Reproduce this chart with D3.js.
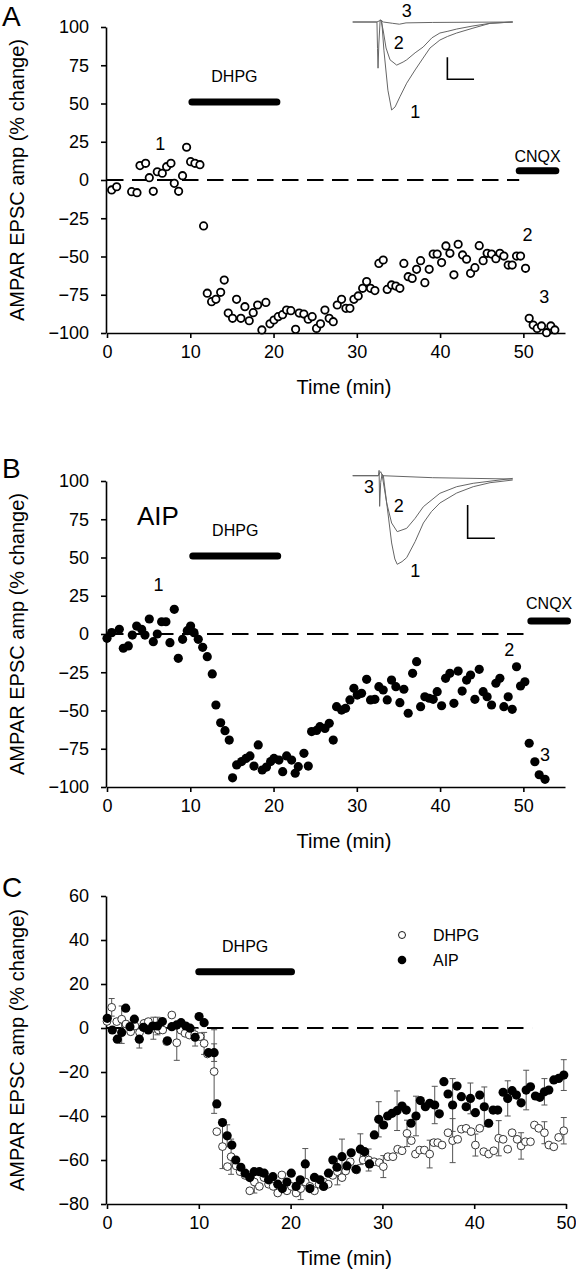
<!DOCTYPE html>
<html><head><meta charset="utf-8">
<script src="https://cdn.jsdelivr.net/npm/d3@7"></script>
<style>
body{margin:0;background:#fff}
svg{display:block}
text{font-family:"Liberation Sans",Arial,Helvetica,sans-serif;fill:#000}
</style>
</head><body>
<svg id="fig" width="576" height="1280"></svg>
<script>
// ---------- DATA ----------
const ticksAB_Y = [-100,-75,-50,-25,0,25,50,75,100];
const ticksAB_X = [0,10,20,30,40,50];
const ticksC_Y = [-80,-60,-40,-20,0,20,40,60];
const ticksC_X = [0,10,20,30,40,50];
const yTitle = "AMPAR EPSC amp (% change)";
const xTitle = "Time (min)";

// Panel A: DHPG (time min, % change)
const panelA = [[0.56,-6.5],[1.16,-4.4],[2.96,-7.6],[3.6,-8.3],[3.96,9.4],[4.64,10.9],[5.08,1.5],[5.56,-7.4],[6.04,5.4],[6.64,4.4],[7.16,8.7],[7.68,10.9],[8.08,-2.2],[8.6,-7.4],[9.07,2.8],[9.56,21.4],[10.04,12],[10.56,10.9],[11.16,10],[11.6,-30],[12.04,-74],[12.56,-79.5],[13.08,-78],[13.65,-73.4],[14.08,-65.4],[14.56,-87],[15.08,-90.4],[15.56,-78],[16.08,-90.4],[16.56,-82.8],[17.08,-92],[17.56,-86.7],[18.09,-81.7],[18.6,-98],[19.08,-80],[19.57,-94],[20.05,-91.5],[20.56,-89.3],[21.08,-88],[21.56,-85],[22.08,-85.4],[22.65,-97.6],[23.08,-87],[23.64,-87.6],[24.16,-91],[24.64,-89.3],[25.16,-97],[25.64,-94],[26.17,-85],[26.68,-90.4],[27.17,-92.6],[27.65,-81.7],[28.17,-78],[28.69,-83.9],[29.17,-83.9],[29.65,-78],[30.17,-75.8],[30.7,-70.8],[31.18,-66.4],[31.65,-70.8],[32.17,-72.3],[32.65,-54.5],[33.17,-52.3],[33.65,-71.5],[34.17,-68.6],[34.69,-69.3],[35.17,-70.8],[35.65,-54.5],[36.17,-63.2],[36.65,-64.3],[37.18,-58.4],[37.66,-52.7],[38.17,-67.1],[38.69,-58.4],[39.17,-48.4],[39.65,-48.4],[40.18,-54],[40.7,-43.1],[41.18,-47.9],[41.66,-62],[42.17,-42],[42.7,-49],[43.18,-51.8],[43.66,-61],[44.18,-57.3],[44.7,-42.9],[45.17,-52.7],[45.65,-47.9],[46.18,-48.4],[46.7,-51.4],[47.18,-47.9],[47.66,-49.7],[48.18,-55.6],[48.66,-55.6],[49.18,-49.7],[49.66,-49.7],[50.26,-57.7],[50.7,-90.4],[51.18,-94.8],[51.66,-97],[52.18,-95.4],[52.78,-99.8],[53.3,-95.4],[53.78,-98]];

// Panel B: AIP
const panelB = [[0,-2.8],[0.56,0.9],[1.48,3.1],[1.96,-9.3],[2.56,-7.8],[3.04,-0.7],[3.56,5.2],[4.16,3.1],[4.56,-0.7],[5.08,9.8],[5.56,-5],[6.04,0],[6.56,8],[7.08,8],[7.56,-5.7],[8.08,16.1],[8.56,-15.9],[9.08,-3.5],[9.64,2.2],[10.04,5.2],[10.44,0.9],[10.96,-3.5],[11.49,-8.7],[12.04,-14.8],[12.64,-26.1],[13.08,-46.4],[13.65,-58],[14.17,-63.2],[14.68,-69.3],[15.08,-94],[15.57,-85.6],[16.17,-83.4],[16.69,-81.3],[17.17,-79.7],[17.65,-86.3],[18.16,-72.5],[18.64,-88.9],[19.15,-87],[19.65,-83.4],[20.05,-81.3],[20.65,-82.4],[21.1,-90],[21.57,-79.7],[22.17,-82.4],[22.6,-91],[22.97,-86.7],[23.65,-78],[24.17,-86.3],[24.57,-63.8],[25.17,-63],[25.57,-60.6],[26.17,-61.7],[26.69,-58.4],[27.17,-69.3],[27.57,-47.5],[28.17,-49.7],[28.65,-48.6],[29.17,-43.1],[29.65,-35.5],[30.05,-39.9],[30.57,-38.8],[31.18,-29.6],[31.65,-43.1],[32.17,-42.7],[32.65,-34.4],[33.17,-36.6],[33.65,-43.1],[34.17,-30.1],[34.69,-34.4],[35.17,-44.9],[35.65,-36.1],[36.17,-51.8],[36.7,-25.7],[37.18,-18.1],[37.66,-47.5],[38.17,-41],[38.69,-42],[39.17,-42.7],[39.65,-37.7],[40.18,-46.9],[40.66,-29],[41.18,-25.7],[41.66,-45.3],[42.17,-24.2],[42.65,-37.3],[43.18,-30.1],[43.66,-26.8],[44.18,-42.7],[44.7,-23.1],[45.17,-37.7],[45.65,-41],[46.18,-46.4],[46.7,-32.2],[47.18,-29],[47.66,-47.5],[48.18,-41],[48.66,-49.2],[49.18,-21.4],[49.66,-34],[50.18,-31.2],[50.7,-71.4],[51.38,-83.5],[51.9,-92],[52.6,-95]];

// Panel C: averages
const cAIP = [[0.03,4.4],[0.58,-0.9],[1.12,-5.1],[1.6,-2],[2.04,9],[2.5,0.6],[2.98,4],[3.52,-5.1],[3.96,0.3],[4.5,-0.9],[4.98,0.9],[5.49,0.9],[6.03,2.9],[6.58,-5.8],[7.06,0.6],[7.6,1.4],[8.07,2.4],[8.58,0.9],[9.05,-0.1],[9.6,-4.2],[10.03,5.2],[10.58,2.4],[11.05,-11.2],[11.67,-11.2],[11.96,-34.5],[12.58,-43],[13.09,-49],[13.6,-53.2],[14.03,-60],[14.58,-63.3],[15.05,-66],[15.55,-68],[16.03,-65.3],[16.6,-65.3],[17.12,-66],[17.6,-69],[18.07,-67.6],[18.6,-71],[19.1,-73],[19.6,-70],[20.07,-66],[20.6,-72],[21.05,-69],[21.6,-61.8],[22.1,-73],[22.6,-67.9],[23.2,-69],[23.6,-72],[24.13,-66],[24.6,-60],[25.05,-63.3],[25.6,-58.5],[26.14,-62.7],[26.6,-56.7],[27.12,-64.2],[27.6,-55.1],[28.06,-56.2],[28.6,-61.8],[29.12,-48.6],[29.6,-41.5],[30.13,-44.1],[30.57,-40],[31.05,-38.8],[31.6,-37.6],[32.14,-35.5],[32.6,-37.3],[33.12,-43.3],[33.66,-40],[34.13,-33],[34.68,-35.8],[35.15,-34.2],[35.7,-35],[36.2,-39],[36.7,-24.4],[37.15,-30],[37.65,-35],[38.13,-26.4],[38.6,-31.2],[39.12,-35.8],[39.59,-32],[40.13,-38.5],[40.6,-30.5],[41.1,-35.8],[41.58,-43.3],[42.06,-37.3],[42.56,-37.3],[43.15,-29.2],[43.65,-32],[44.13,-28.5],[44.6,-30.5],[45.11,-34],[45.66,-28.2],[46.13,-26.7],[46.67,-30.9],[47.15,-31.5],[47.65,-29],[48.13,-28.2],[48.67,-23.6],[49.2,-22.9],[49.76,-21.4]];
const cDHPG = [[0,3],[0.51,9.4],[1.06,2.9],[1.6,4],[2.07,1.8],[2.58,-1.7],[3.05,0.9],[3.55,-2],[4.03,2.1],[4.5,2.9],[5.05,-0.1],[5.6,-0.9],[6.07,-0.9],[6.5,-6.2],[7.06,5.9],[7.6,-6.7],[8.05,-1],[8.5,-2.4],[8.97,-3.2],[9.55,-3],[10.14,-3.9],[10.58,-7],[10.94,-11.8],[11.67,-19.8],[11.96,-47.1],[12.58,-53.9],[13.12,-63],[13.52,-58.5],[14.07,-62.7],[14.5,-65.3],[15.05,-67],[15.55,-74],[16.05,-70],[16.6,-72],[17.1,-68],[17.6,-71],[18.1,-72],[18.6,-75],[19.05,-66.8],[19.6,-74],[20.1,-72],[20.6,-75],[21.1,-73],[21.6,-70],[22.1,-72],[22.6,-74],[23.1,-71],[23.6,-70],[24.1,-71],[24.6,-67],[25.1,-65.3],[25.6,-68],[26.0,-65],[26.5,-60.8],[27.2,-64.5],[27.9,-60],[28.5,-60],[29.1,-60.8],[29.66,-61.2],[30.1,-63],[30.6,-58.5],[31.15,-58.5],[31.66,-55.1],[32.14,-55.8],[32.68,-47.9],[33.15,-51.2],[33.6,-57.3],[34.06,-55.5],[34.57,-55.5],[35.15,-57.3],[35.6,-52.1],[36.03,-52.1],[36.5,-53.2],[37.15,-47.6],[37.65,-51.2],[38.2,-50.6],[38.6,-46],[39.12,-45.6],[39.66,-47.1],[40.13,-53.2],[40.6,-45.6],[41.04,-56.2],[41.58,-57.3],[42.13,-55.8],[42.67,-50.1],[43.15,-50.6],[43.65,-55.1],[44.13,-47.6],[44.68,-50.6],[45.11,-53.6],[45.58,-51.7],[46.13,-51.7],[46.56,-44.1],[47.03,-45.6],[47.65,-47.6],[48.13,-53.2],[48.67,-54],[49.2,-49.7],[49.76,-46.7]];
// SEM values [time, sem]
const cAIPErr = [[1.6,5],[3.52,4],[5.49,4],[9.6,4],[11.67,4],[13.09,5],[21.6,7],[25.6,8],[27.6,7],[29.6,8],[31.6,9],[33.66,9],[35.7,8.5],[37.65,12],[39.59,7],[41.1,9],[43.65,8],[45.66,9],[47.65,6],[49.76,7]];
const cDHPGErr = [[0.51,4],[1.6,6],[5.05,5],[7.6,8],[10.58,5],[11.67,19],[12.58,10],[13.52,8],[16.05,5],[21.1,5],[25.1,6],[28.5,5],[30.1,5],[32.68,6],[35.15,6.3],[37.65,10],[40.13,5],[42.67,8],[45.11,6],[47.65,5],[49.76,6]];

// Drug application bars [label, start, end, level]
const drugsA = [["DHPG",10.2,20.4,51],["CNQX",49.5,53.9,6]];
const drugsB = [["DHPG",10.3,20.5,51],["CNQX",50.9,55.3,8.5]];
const drugsC = [["DHPG",10,20.1,25.6]];
const baselineA = [0,49.5], baselineB = [0,51], baselineC = [0,46.3];

// Point labels [label, time, value]
const labelsA = [["1",6.4,19.6],["2",50.5,-40],["3",52.5,-80.4]];
const labelsB = [["1",6.2,28],["2",48.3,-14.4],["3",52.6,-83]];

// Inset traces [ms, pA]
const trA1 = [[0,0],[9.1,0],[9.3,-60],[9.5,-105],[9.8,-50],[10.3,5],[10.9,2],[11.7,-64],[13.2,-155],[14.6,-200],[15.9,-193],[17.7,-170],[20.25,-139],[23.4,-109],[26.4,-82],[29,-59],[32.7,-41],[35.5,-33],[39,-25],[45.1,-14],[51.5,-3],[60,0]];
const trA2 = [[10.6,4],[11.4,-18],[12.5,-59],[14,-86],[16.5,-98],[18.9,-91],[20.25,-86],[23.4,-70],[26.4,-57],[29.7,-36],[32.7,-25],[35.7,-21],[39,-16],[45.1,-9],[51.5,-3],[60,0]];
const trA3 = [[0,0],[9,0],[10.6,4],[11.5,0],[15,-3],[17.5,-5],[20,-2],[30,-1],[60,0]];
const barA = [[35.5,-80],[35.5,-130],[45.5,-130]];
const trB1 = [[0,0],[9.7,0],[9.9,8],[10.1,-46],[10.5,-10],[11,2],[11.5,0],[12.75,-41],[14.6,-101],[15.8,-125],[16.7,-133],[18.5,-129],[20.25,-123],[23.4,-99],[26.5,-71],[29.5,-54],[32.7,-41],[39,-26],[45.2,-16.5],[51.5,-10.5],[60,-6.5]];
const trB2 = [[11,2],[12.75,-41],[14.6,-71],[16.7,-84],[20.25,-79],[23.4,-64],[26.5,-46.5],[32.7,-26.4],[39,-16.5],[45.2,-11.4],[60,-4]];
const trB3 = [[0,0],[9.5,0],[10.5,6],[11.2,0],[30,-3],[60,-5]];
const barB = [[43.1,-44],[43.1,-94],[53.3,-94]];
const traceLabelsA = [["3",20.3,11],["2",17.3,-61],["1",23.5,-218]];
const traceLabelsB = [["3",6.1,-26],["2",17.3,-54.5],["1",23.5,-152]];

// ---------- DRAW ----------
const svg = d3.select("#fig");
const FONT = '"Liberation Sans",Arial,Helvetica,sans-serif';

function panel(cfg){
  const x = d3.scaleLinear().domain(cfg.xd).range(cfg.xr);
  const y = d3.scaleLinear().domain(cfg.yd).range(cfg.yr);
  const g = svg.append("g");
  const ya = g.append("g").attr("transform",`translate(${cfg.xr[0]-1},0)`)
    .call(d3.axisLeft(y).tickValues(cfg.yt).tickSize(5).tickSizeOuter(0).tickPadding(12).tickFormat(d3.format("d")));
  const xa = g.append("g").attr("transform",`translate(0,${cfg.yr[0]})`)
    .call(d3.axisBottom(x).tickValues(cfg.xt).tickSize(5).tickSizeOuter(0).tickPadding(7).tickFormat(d3.format("d")));
  [ya,xa].forEach(a=>{
    a.select(".domain").attr("stroke","#000").attr("stroke-width",1.6);
    a.selectAll(".tick line").attr("stroke","#000").attr("stroke-width",1.6);
    a.selectAll(".tick text").attr("font-size",18).attr("font-family",FONT).attr("fill","#000");
  });
  // titles
  g.append("text").attr("x",(cfg.xr[0]+cfg.xr[1])/2+8).attr("y",cfg.yr[0]+61)
    .attr("text-anchor","middle").attr("font-size",20).text(xTitle);
  g.append("text").attr("transform",`translate(24,${(cfg.yr[0]+cfg.yr[1])/2}) rotate(-90)`)
    .attr("text-anchor","middle").attr("font-size",20).text(yTitle);
  g.append("text").attr("x",2).attr("y",cfg.letterY).attr("font-size",28).text(cfg.letter);
  // baseline dashed
  g.append("line").attr("x1",x(cfg.base[0])).attr("x2",x(cfg.base[1]))
    .attr("y1",y(0)).attr("y2",y(0)).attr("stroke","#000").attr("stroke-width",2.2)
    .attr("stroke-dasharray","16.5,8.5");
  // drug bars
  cfg.drugs.forEach(d=>{
    g.append("line").attr("x1",x(d[1])).attr("x2",x(d[2])).attr("y1",y(d[3])).attr("y2",y(d[3]))
      .attr("stroke","#000").attr("stroke-width",7).attr("stroke-linecap","round");
    g.append("text").attr("x",(x(d[1])+x(d[2]))/2).attr("y",y(d[3])-(d[0]==="CNQX"?cfg.cnqxGap:20))
      .attr("text-anchor","middle").attr("font-size",16).text(d[0]);
  });
  return {g,x,y};
}

function inset(g, xr, yd, yr, traces, bar, labels){
  const xs = d3.scaleLinear().domain([0,60]).range(xr);
  const ys = d3.scaleLinear().domain(yd).range(yr);
  const line = d3.line().x(d=>xs(d[0])).y(d=>ys(d[1])).curve(d3.curveLinear);
  traces.forEach(t=>g.append("path").attr("d",line(t)).attr("fill","none")
     .attr("stroke","#666").attr("stroke-width",1).attr("stroke-linejoin","round"));
  g.append("path").attr("d",line(bar)).attr("fill","none").attr("stroke","#000").attr("stroke-width",1.6);
  labels.forEach(l=>g.append("text").attr("x",xs(l[1])).attr("y",ys(l[2]))
     .attr("text-anchor","middle").attr("font-size",18).text(l[0]));
}

// Panel A
const A = panel({xd:[0,55],xr:[107,565],yd:[-100,100],yr:[333,27],xt:ticksAB_X,yt:ticksAB_Y,
  letter:"A",letterY:26,base:baselineA,drugs:drugsA,cnqxGap:9});
A.g.append("g").selectAll("circle").data(panelA).join("circle")
  .attr("cx",d=>A.x(d[0])).attr("cy",d=>A.y(d[1])).attr("r",3.7)
  .attr("fill","#fff").attr("stroke","#000").attr("stroke-width",1.8);
labelsA.forEach(l=>A.g.append("text").attr("x",A.x(l[1])).attr("y",A.y(l[2]))
  .attr("text-anchor","middle").attr("font-size",18).text(l[0]));
inset(A.g,[352.7,512.7],[0,-200],[22,110],[trA3,trA2,trA1],barA,traceLabelsA);

// Panel B
const B = panel({xd:[0,55],xr:[107,565],yd:[-100,100],yr:[787,481],xt:ticksAB_X,yt:ticksAB_Y,
  letter:"B",letterY:478,base:baselineB,drugs:drugsB,cnqxGap:12});
B.g.append("g").selectAll("circle").data(panelB).join("circle")
  .attr("cx",d=>B.x(d[0])).attr("cy",d=>B.y(d[1])).attr("r",4.6).attr("fill","#000");
labelsB.forEach(l=>B.g.append("text").attr("x",B.x(l[1])).attr("y",B.y(l[2]))
  .attr("text-anchor","middle").attr("font-size",18).text(l[0]));
B.g.append("text").attr("x",137).attr("y",525).attr("font-size",26).text("AIP");
inset(B.g,[352.7,512.7],[0,-133],[475.7,564.3],[trB3,trB2,trB1],barB,traceLabelsB);

// Panel C
const C = panel({xd:[0,50],xr:[107,566],yd:[-80,60],yr:[1204,896],xt:ticksC_X,yt:ticksC_Y,
  letter:"C",letterY:897,base:baselineC,drugs:drugsC,cnqxGap:12});
function nearest(series,t){ return series.reduce((a,b)=>Math.abs(b[0]-t)<Math.abs(a[0]-t)?b:a); }
function errbars(series, errs){
  errs.forEach(e=>{
    const p = nearest(series,e[0]);
    const xx = C.x(p[0]), y1 = C.y(p[1]+e[1]), y2 = C.y(p[1]-e[1]);
    C.g.append("line").attr("x1",xx).attr("x2",xx).attr("y1",y1).attr("y2",y2).attr("stroke","#555").attr("stroke-width",1);
    [y1,y2].forEach(yy=>C.g.append("line").attr("x1",xx-3).attr("x2",xx+3).attr("y1",yy).attr("y2",yy).attr("stroke","#555").attr("stroke-width",1));
  });
}
errbars(cDHPG,cDHPGErr);
errbars(cAIP,cAIPErr);
C.g.append("g").selectAll("circle").data(cDHPG).join("circle")
  .attr("cx",d=>C.x(d[0])).attr("cy",d=>C.y(d[1])).attr("r",3.9)
  .attr("fill","#fff").attr("stroke","#222").attr("stroke-width",0.9);
C.g.append("g").selectAll("circle").data(cAIP).join("circle")
  .attr("cx",d=>C.x(d[0])).attr("cy",d=>C.y(d[1])).attr("r",4.6).attr("fill","#000");
// legend
const legend = [["DHPG",false],["AIP",true]];
legend.forEach((l,i)=>{
  const yy = 935 + i*25;
  C.g.append("circle").attr("cx",402).attr("cy",yy).attr("r",l[1]?4.3:3.5)
    .attr("fill",l[1]?"#000":"#fff").attr("stroke","#000").attr("stroke-width",l[1]?0:0.9);
  C.g.append("text").attr("x",433).attr("y",yy+6).attr("font-size",16).text(l[0]);
});
</script>
</body></html>
